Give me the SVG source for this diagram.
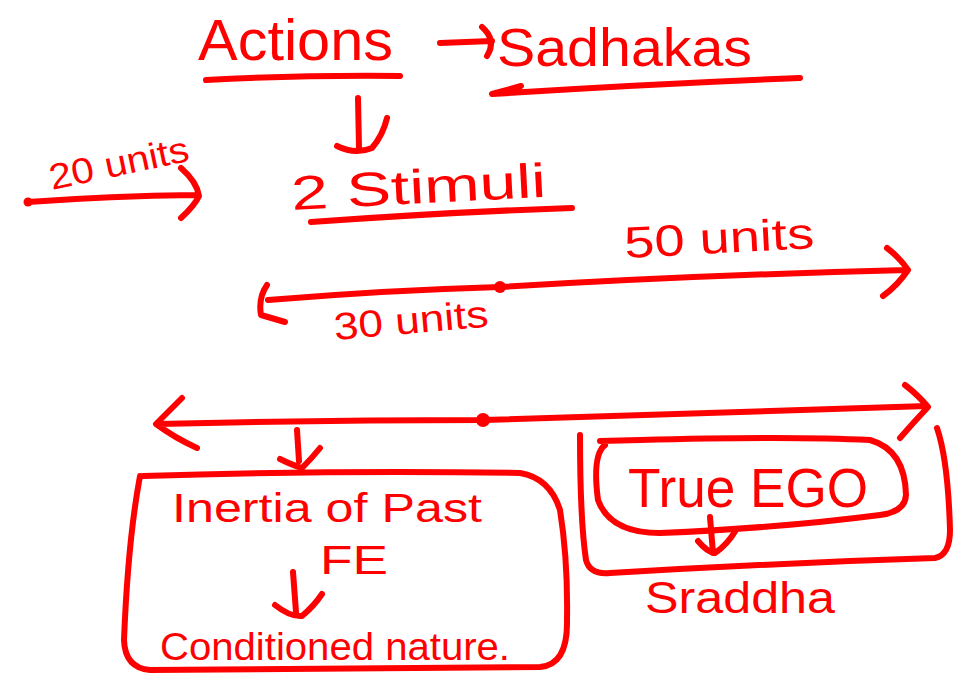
<svg xmlns="http://www.w3.org/2000/svg" width="969" height="675" viewBox="0 0 969 675">
<style>
.s{fill:none;stroke:#ff0000;stroke-width:6;stroke-linecap:round;stroke-linejoin:round}
.t{fill:#ff0000;font-family:"Liberation Sans",Arial,sans-serif}
.d{fill:#ff0000}
</style>
<rect width="969" height="675" fill="#ffffff"/>
<g id="actions">
<text class="t" x="198" y="60" font-size="58" textLength="195" lengthAdjust="spacingAndGlyphs">Actions</text>
<path class="s" d="M206,80 Q300,75 400,76"/>
</g>
<g id="sadhakas">
<text class="t" x="497" y="66" font-size="54" textLength="255" lengthAdjust="spacingAndGlyphs">Sadhakas</text>
<path class="s" d="M521,86 L492,94 Q650,84 800,78"/>
</g>
<g id="stimuli">
<text class="t" x="292" y="210" font-size="48" textLength="255" lengthAdjust="spacingAndGlyphs" transform="rotate(-3 292 210)">2 Stimuli</text>
<path class="s" d="M311,222 Q450,212 572,208"/>
</g>
<g id="label-20">
<text class="t" x="52" y="190" font-size="36" textLength="142" lengthAdjust="spacingAndGlyphs" transform="rotate(-12 52 190)">20 units</text>
</g>
<g id="label-50">
<text class="t" x="625" y="258" font-size="44" textLength="190" lengthAdjust="spacingAndGlyphs" transform="rotate(-3 625 258)">50 units</text>
</g>
<g id="label-30">
<text class="t" x="335" y="340" font-size="38" textLength="155" lengthAdjust="spacingAndGlyphs" transform="rotate(-5 335 340)">30 units</text>
</g>
<g id="inertia">
<path class="s" d="M143,476 Q340,470 520,473 Q550,478 560,510 Q568,560 567,620 Q568,665 540,667 L150,670 Q125,668 124,640 Q128,540 140,476"/>
<text class="t" x="172" y="522" font-size="40" textLength="310" lengthAdjust="spacingAndGlyphs">Inertia of Past</text>
<text class="t" x="320" y="574" font-size="40" textLength="68" lengthAdjust="spacingAndGlyphs">FE</text>
<text class="t" x="160" y="660" font-size="38" textLength="350" lengthAdjust="spacingAndGlyphs">Conditioned nature.</text>
</g>
<g id="true-ego">
<path class="s" d="M600,441 L640,440 Q790,436 870,440 Q905,450 906,495 Q905,512 880,515 Q780,528 660,533 Q610,533 598,500 Q592,455 605,445"/>
<text class="t" x="628" y="507" font-size="56" textLength="240" lengthAdjust="spacingAndGlyphs">True EGO</text>
</g>
<g id="straddle-box">
<path class="s" d="M580,435 Q580,520 586,560 Q590,575 610,573 Q780,563 935,558 Q950,555 950,530 Q948,460 937,428"/>
</g>
<g id="sraddha">
<text class="t" x="645" y="613" font-size="44" textLength="190" lengthAdjust="spacingAndGlyphs">Sraddha</text>
</g>
<g id="connectors">
<path class="s" d="M440,43 L492,41 M482,27 Q497,40 487,56"/>
<path class="s" d="M358,98 L359,148 M337,146 Q355,155 372,148 Q383,135 387,118"/>
<path class="s" d="M28,202 Q110,196 195,195 M181,168 Q197,182 199,196 Q195,205 181,218"/>
<circle class="d" cx="28" cy="202" r="4.5"/>
<path class="s" d="M267,285 Q258,298 261,315 L285,322 M268,300 Q390,290 500,287 Q700,275 907,270 M887,248 Q900,258 908,270 Q898,285 883,296"/>
<circle class="d" cx="500" cy="287" r="6"/>
<path class="s" d="M158,424 Q320,420 483,420 Q710,412 927,406 M182,398 L156,424 Q175,438 197,448 M905,385 Q918,395 928,407 Q913,423 900,438"/>
<circle class="d" cx="483" cy="420" r="7"/>
<path class="s" d="M297,430 L299,461 M280,459 Q292,465 302,468 Q312,458 320,448"/>
<path class="s" d="M293,572 L296,612 M275,605 Q290,617 302,616 Q314,606 322,594"/>
<path class="s" d="M710,517 L713,553 M698,541 Q707,552 715,553 Q727,545 736,530"/>
</g>
</svg>
